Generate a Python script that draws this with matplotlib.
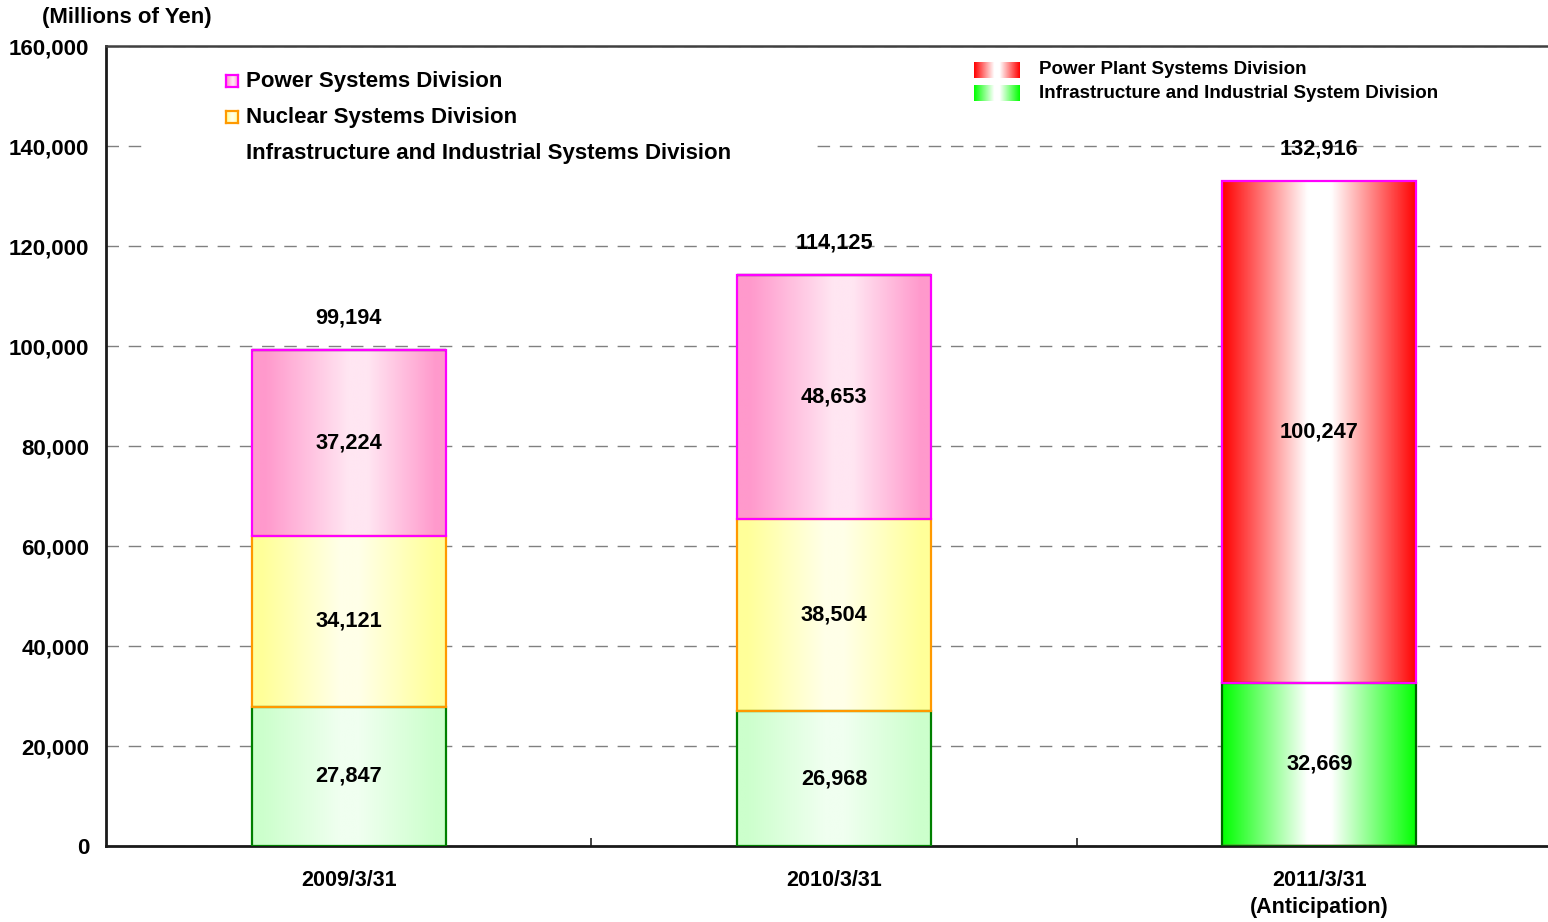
import numpy as np
import matplotlib
matplotlib.use("Agg")
import matplotlib.pyplot as plt
from matplotlib.patches import Rectangle
from matplotlib.colors import to_rgb

plt.rcParams['font.family'] = ['Liberation Sans', 'DejaVu Sans']
plt.rcParams['font.weight'] = 'bold'

# ---- data ----
categories = ["2009/3/31", "2010/3/31", "2011/3/31\n(Anticipation)"]
infra_old = [27847, 26968, 0]        # Infrastructure and Industrial Systems Division
nuclear = [34121, 38504, 0]          # Nuclear Systems Division
power = [37224, 48653, 0]            # Power Systems Division
infra_new = [0, 0, 32669]            # Infrastructure and Industrial System Division (new)
power_plant = [0, 0, 100247]         # Power Plant Systems Division
totals = [99194, 114125, 132916]
y_ticks = [0, 20000, 40000, 60000, 80000, 100000, 120000, 140000, 160000]

W, H = 1548, 922
fig = plt.figure(figsize=(W / 100, H / 100), dpi=100)

def fx(x):
    return x / W

def fy(y):
    return 1 - y / H

ax_left, ax_right, ax_top, ax_bot = 106, 1562, 46, 846
ax = fig.add_axes([fx(ax_left), fy(ax_bot), (ax_right - ax_left) / W, (ax_bot - ax_top) / H])

# gradient helpers
def grad_row(edge, center, peak=0.55, plateau=0.0, edge_flat=0.0, n=256):
    t = np.linspace(0, 1, n)
    d = np.where(t < peak, (peak - t) / peak, (t - peak) / (1 - peak))
    b = 1 - d
    b = np.clip((b - edge_flat) / (1 - edge_flat - plateau), 0, 1)
    e = np.array(to_rgb(edge))
    c = np.array(to_rgb(center))
    rgb = e[None, :] * (1 - b[:, None]) + c[None, :] * b[:, None]
    return rgb[None, :, :]

styles = {
    'infra_old': dict(edge='#CCFFCC', center='#F0FFF0', line='#008000', peak=0.5,
                      plateau=0.1, edge_flat=0.1),
    'nuclear': dict(edge='#FFFF99', center='#FFFFE8', line='#FF9900', peak=0.5,
                    plateau=0.1, edge_flat=0.1),
    'power': dict(edge='#FF99CC', center='#FFE6F2', line='#FF00FF', peak=0.55,
                  plateau=0.1, edge_flat=0.12),
    'infra_new': dict(edge='#00FF00', center='#FFFFFF', line='#006400', peak=0.5,
                      plateau=0.12, edge_flat=0.0),
    'power_plant': dict(edge='#FF0000', center='#FFFFFF', line='#FF00FF', peak=0.5,
                        plateau=0.12, edge_flat=0.0),
}

def grad_for(key):
    st = styles[key]
    return grad_row(st['edge'], st['center'], st['peak'], st['plateau'], st['edge_flat'])

x = np.arange(len(categories))
bw = 0.40
series = [('infra_old', infra_old), ('nuclear', nuclear), ('power', power),
          ('infra_new', infra_new), ('power_plant', power_plant)]
bottom = np.zeros(len(categories))
seg_info = []
for key, vals in series:
    vals = np.array(vals, dtype=float)
    st = styles[key]
    bars = ax.bar(x, vals, bw, bottom=bottom, facecolor='none', edgecolor=st['line'],
                  linewidth=1.6, zorder=4)
    for i, (b, v) in enumerate(zip(bars, vals)):
        if v <= 0:
            continue
        x0, y0 = b.get_x(), b.get_y()
        im = ax.imshow(grad_for(key), aspect='auto',
                       extent=[x0, x0 + b.get_width(), y0, y0 + v], zorder=3,
                       interpolation='bilinear')
        im.set_clip_path(b)
        seg_info.append((x[i], y0 + v / 2, v))
    bottom = bottom + vals

for xc, ym, v in seg_info:
    ax.text(xc, ym, f"{int(v):,}", ha='center', va='center', fontsize=15.7,
            fontweight='bold', zorder=6)

for xc, t in zip(x, totals):
    ax.annotate(f"{t:,}", (xc, t), xytext=(0, 23), textcoords='offset points',
                ha='center', va='center', fontsize=15.7, fontweight='bold', zorder=6)

ax.set_xlim(-0.5, 2.5)
ax.set_ylim(0, 160000)
ax.set_yticks(y_ticks)
ax.set_yticklabels([f"{v:,}" for v in y_ticks], fontsize=16, fontweight='bold')
ax.set_xticks(x)
ax.set_xticklabels(categories, fontsize=15.5, fontweight='bold', linespacing=1.4)
ax.set_xticks([0.5, 1.5], minor=True)
ax.tick_params(axis='x', which='major', length=0, pad=17)
ax.tick_params(axis='x', which='minor', direction='in', length=6, width=1.2, color='#222222')
ax.tick_params(axis='y', length=0, pad=12)

ax.grid(axis='y', color='#808080', linewidth=1.0, linestyle=(0, (9, 7)), zorder=1)
ax.set_axisbelow(True)
for s in ['left', 'bottom']:
    ax.spines[s].set_linewidth(2)
    ax.spines[s].set_color('#1a1a1a')
ax.spines['top'].set_linewidth(1.8)
ax.spines['top'].set_color('#404040')
ax.spines['right'].set_visible(False)

fig.text(fx(42), fy(17), "(Millions of Yen)", fontsize=16, fontweight='bold',
         ha='left', va='center')

# left legend (white box covering grid)
fig.patches.append(Rectangle((fx(143), fy(170)), (812 - 143) / W, (170 - 60) / H,
                             transform=fig.transFigure, facecolor='white',
                             edgecolor='none', zorder=2))
left_entries = [("Power Systems Division", 'power'),
                ("Nuclear Systems Division", 'nuclear'),
                ("Infrastructure and Industrial Systems Division", None)]
for k, (lab, key) in enumerate(left_entries):
    yc = 81 + 36 * k
    if key is not None:
        st = styles[key]
        sax = fig.add_axes([fx(226), fy(yc + 6), 12 / W, 12 / H], zorder=5)
        sax.imshow(grad_for(key), aspect='auto', extent=[0, 1, 0, 1])
        sax.set_xticks([]); sax.set_yticks([])
        for sp in sax.spines.values():
            sp.set_color(st['line']); sp.set_linewidth(1.6)
    fig.text(fx(246), fy(yc), lab, fontsize=16, fontweight='bold', ha='left',
             va='center', zorder=6)

# right legend
right_entries = [("Power Plant Systems Division", 'power_plant'),
                 ("Infrastructure and Industrial System Division", 'infra_new')]
for k, (lab, key) in enumerate(right_entries):
    yc = 70 + 23 * k
    sax = fig.add_axes([fx(974), fy(yc + 8), 46 / W, 16 / H], zorder=5)
    sax.imshow(grad_for(key), aspect='auto', extent=[0, 1, 0, 1])
    sax.set_xticks([]); sax.set_yticks([])
    for sp in sax.spines.values():
        sp.set_visible(False)
    fig.text(fx(1039), fy(yc), lab, fontsize=13.5, fontweight='bold', ha='left',
             va='center', zorder=6)

fig.savefig("out.png", dpi=100)
